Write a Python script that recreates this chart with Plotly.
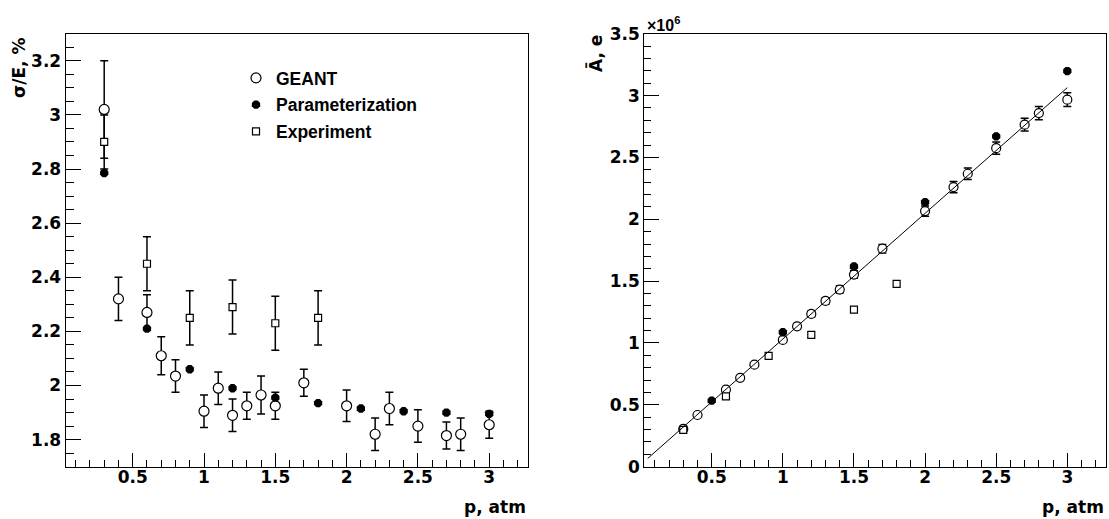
import plotly.graph_objects as go
import numpy as np

# ---------------- Left panel: energy resolution sigma/E, % ----------------
p_geant = [0.3, 0.4, 0.6, 0.7, 0.8, 1.0, 1.1, 1.2, 1.3, 1.4, 1.5, 1.7, 2.0, 2.2, 2.3, 2.5, 2.7, 2.8, 3.0]
res_geant = [3.02, 2.32, 2.27, 2.11, 2.035, 1.905, 1.99, 1.89, 1.925, 1.965, 1.925, 2.01, 1.925, 1.82, 1.915, 1.85, 1.815, 1.82, 1.855]
res_geant_err = [0.18, 0.08, 0.065, 0.07, 0.06, 0.06, 0.06, 0.06, 0.05, 0.07, 0.05, 0.05, 0.058, 0.06, 0.06, 0.06, 0.05, 0.06, 0.05]

p_param_res = [0.3, 0.6, 0.9, 1.2, 1.5, 1.8, 2.1, 2.4, 2.7, 3.0]
res_param = [2.785, 2.21, 2.06, 1.99, 1.955, 1.935, 1.915, 1.905, 1.90, 1.895]

p_exp_res = [0.3, 0.6, 0.9, 1.2, 1.5, 1.8]
res_exp = [2.90, 2.45, 2.25, 2.29, 2.23, 2.25]
res_exp_err = [0.10, 0.10, 0.10, 0.10, 0.10, 0.10]

# ---------------- Right panel: mean amplitude, 10^6 e ----------------
amp_geant = [0.305, 0.418, 0.623, 0.718, 0.825, 1.025, 1.135, 1.235, 1.34, 1.432, 1.553, 1.762, 2.066, 2.26, 2.368, 2.575, 2.765, 2.858, 2.967]
amp_geant_err = [0.010, 0.010, 0.012, 0.014, 0.016, 0.020, 0.022, 0.024, 0.026, 0.028, 0.030, 0.034, 0.042, 0.045, 0.046, 0.050, 0.052, 0.054, 0.056]

p_param_amp = [0.5, 1.0, 1.5, 2.0, 2.5, 3.0]
amp_param = [0.534, 1.087, 1.618, 2.138, 2.67, 3.198]

p_exp_amp = [0.3, 0.6, 0.9, 1.2, 1.5, 1.8]
amp_exp = [0.297, 0.569, 0.896, 1.066, 1.27, 1.478]

# linear fit drawn on the right panel
fit_p0 = 0.016
fit_p1 = 1.016
fit_range = [0.05, 3.0]

W, H = 1109, 519
TFONT = "DejaVu Sans, Verdana, sans-serif"
LFONT = "Liberation Sans, Arial, sans-serif"

fig = go.Figure()

err_style = dict(type="data", color="black", thickness=1.5, width=4, visible=True)

# Left panel traces
fig.add_trace(go.Scatter(
    x=p_geant, y=res_geant, mode="markers", name="GEANT", legendgroup="g1",
    error_y=dict(array=res_geant_err, **err_style),
    marker=dict(symbol="circle", size=10, color="white", line=dict(color="black", width=1.2)),
    xaxis="x", yaxis="y"))
fig.add_trace(go.Scatter(
    x=p_param_res, y=res_param, mode="markers", name="Parameterization", legendgroup="g2",
    marker=dict(symbol="octagon", size=9, color="black", line=dict(color="black", width=0)),
    xaxis="x", yaxis="y"))
fig.add_trace(go.Scatter(
    x=p_exp_res, y=res_exp, mode="markers", name="Experiment", legendgroup="g3",
    error_y=dict(array=res_exp_err, **err_style),
    marker=dict(symbol="square", size=7, color="white", line=dict(color="black", width=1.2)),
    xaxis="x", yaxis="y"))

# Right panel traces
fig.add_trace(go.Scatter(
    x=p_geant, y=amp_geant, mode="markers", showlegend=False,
    error_y=dict(array=amp_geant_err, **err_style),
    marker=dict(symbol="circle", size=9, color="white", line=dict(color="black", width=1.2)),
    xaxis="x2", yaxis="y2"))
fig.add_trace(go.Scatter(
    x=p_param_amp, y=amp_param, mode="markers", showlegend=False,
    marker=dict(symbol="octagon", size=9, color="black", line=dict(color="black", width=0)),
    xaxis="x2", yaxis="y2"))
fig.add_trace(go.Scatter(
    x=p_exp_amp, y=amp_exp, mode="markers", showlegend=False,
    marker=dict(symbol="square", size=7, color="white", line=dict(color="black", width=1.2)),
    xaxis="x2", yaxis="y2"))
fit_x = np.linspace(fit_range[0], fit_range[1], 50)
fig.add_trace(go.Scatter(
    x=fit_x, y=fit_p0 + fit_p1 * fit_x, mode="lines", showlegend=False,
    line=dict(color="black", width=1), xaxis="x2", yaxis="y2"))

ydom = [1 - 466.7 / H, 1 - 33.7 / H]
axis_common = dict(
    showgrid=False, zeroline=False, showline=True, mirror=True, automargin=False,
    linecolor="black", linewidth=1.2, ticks="inside", tickcolor="black",
    tickwidth=1.2, tickfont=dict(family=TFONT, size=17, color="black", weight="bold"),
)
minor_common = dict(ticks="inside", tickcolor="black", tickwidth=1.2, tick0=0)

fig.update_layout(
    template="none",
    width=W, height=H,
    margin=dict(l=0, r=0, t=0, b=0, pad=0, autoexpand=False),
    paper_bgcolor="white", plot_bgcolor="white",
    showlegend=True,
    legend=dict(
        x=236 / W, y=1 - 60 / H, xanchor="left", yanchor="top",
        bgcolor="rgba(0,0,0,0)", borderwidth=0,
        font=dict(family=LFONT, size=17.5, color="black", weight="bold"),
        traceorder="grouped", tracegroupgap=1,
    ),
    xaxis=dict(domain=[65.7 / W, 527.7 / W], range=[0.03, 3.27], anchor="y",
               tick0=0, dtick=0.5, ticklen=14, ticklabelstandoff=-5,
               minor=dict(dtick=0.1, ticklen=7, **minor_common),
               **axis_common),
    yaxis=dict(domain=ydom, range=[1.7, 3.3], anchor="x",
               tick0=0, dtick=0.2, ticklen=15,
               minor=dict(dtick=0.05, ticklen=8, **minor_common),
               **axis_common),
    xaxis2=dict(domain=[644.3 / W, 1106 / W], range=[0.026, 3.272], anchor="y2",
                tick0=0, dtick=0.5, ticklen=14, ticklabelstandoff=-5,
                minor=dict(dtick=0.1, ticklen=7, **minor_common),
                **axis_common),
    yaxis2=dict(domain=ydom, range=[0, 3.5], anchor="x2",
                tick0=0, dtick=0.5, ticklen=15,
                minor=dict(dtick=0.1, ticklen=7, **minor_common),
                **axis_common),
)

title_font = dict(family=TFONT, size=17, color="black", weight="bold")
annotations = [
    dict(text="σ/E, %", x=19 / W, y=1 - 68 / H, xref="paper", yref="paper",
         xanchor="center", yanchor="middle", textangle=-90, showarrow=False, font=title_font),
    dict(text="p, atm", x=527.7 / W, y=1 - 507 / H, xref="paper", yref="paper",
         xanchor="right", yanchor="middle", showarrow=False, font=title_font),
    dict(text="Ā, e", x=595 / W, y=1 - 54 / H, xref="paper", yref="paper",
         xanchor="center", yanchor="middle", textangle=-90, showarrow=False, font=title_font),
    dict(text="p, atm", x=1106 / W, y=1 - 507 / H, xref="paper", yref="paper",
         xanchor="right", yanchor="middle", showarrow=False, font=title_font),
    dict(text="×10<sup>6</sup>", x=645 / W, y=1 - 24 / H, xref="paper", yref="paper",
         xanchor="left", yanchor="middle", showarrow=False,
         font=dict(family=LFONT, size=16, color="black", weight="bold")),
]
fig.update_layout(annotations=annotations)

fig.write_html("out.html", config={"displayModeBar": False},
               post_script="document.body.style.margin='0px';")
